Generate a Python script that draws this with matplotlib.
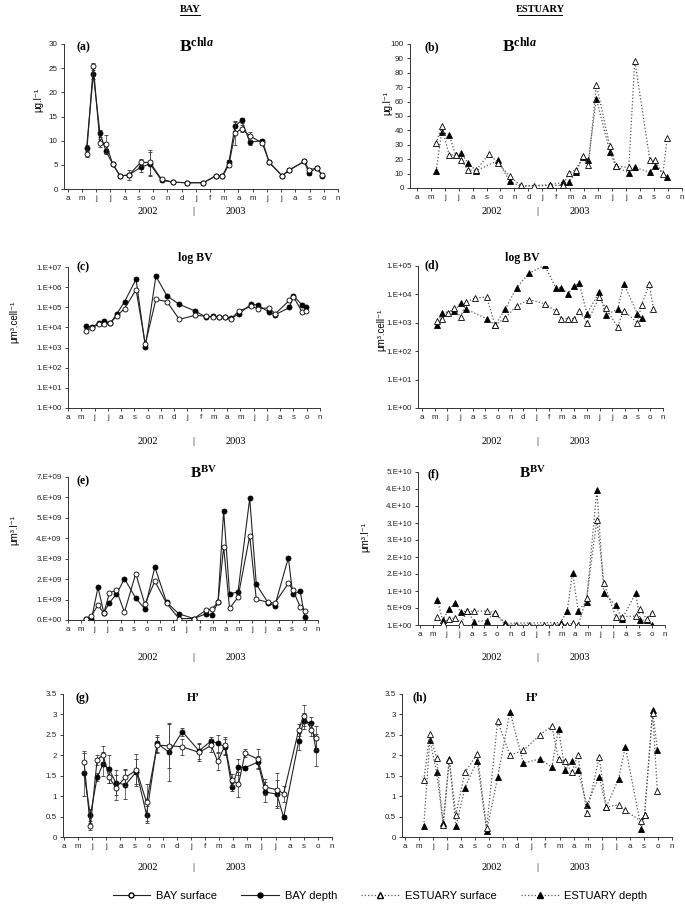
import numpy as np
import matplotlib
matplotlib.use('Agg')
import matplotlib.pyplot as plt
from matplotlib.lines import Line2D

plt.rcParams['font.family'] = ['Liberation Sans', 'DejaVu Sans']
plt.rcParams['mathtext.fontset'] = 'custom'
plt.rcParams['mathtext.rm'] = 'Liberation Serif'
plt.rcParams['mathtext.bf'] = 'Liberation Serif:bold'
plt.rcParams['mathtext.it'] = 'Liberation Serif:italic:bold'

nan = np.nan
months = ['a', 'm', 'j', 'j', 'a', 's', 'o', 'n', 'd', 'j', 'f', 'm', 'a', 'm', 'j', 'j', 'a', 's', 'o', 'n']

# (a) BAY chl a
bay_chl_x = [1.33, 1.8, 2.27, 2.7, 3.16, 3.68, 4.3, 5.13, 5.78, 6.6, 7.42, 8.36, 9.53, 10.4, 10.87,
             11.33, 11.76, 12.22, 12.8, 13.68, 14.17, 15.08, 15.55, 16.63, 16.96, 17.5, 17.9]
bay_chl_surf = [7.3, 25.5, 9.5, 9.3, 5.2, 2.7, 2.9, 5.5, 5.5, 2.0, 1.4, 1.3, 1.3, 2.7, 2.6,
                5.0, 11.5, 12.5, 11.0, 9.5, 5.5, 2.7, 3.9, 5.7, 4.0, 4.3, 3.0]
bay_chl_depth = [8.5, 23.7, 11.5, 7.8, 5.2, 2.7, 2.9, 4.5, 5.2, 1.8, 1.4, 1.3, 1.3, 2.7, 2.6,
                 5.5, 13.0, 14.2, 9.7, 10.0, 5.5, 2.7, 3.9, 5.7, 3.3, 4.4, 2.7]
bay_chl_surf_err = [0.7, 0.5, 0.8, 1.8, 0.3, 0.3, 1.1, 0.7, 2.5, 0.3, 0.1, 0.1, 0.1, 0.3, 0.2,
                    0.5, 2.3, 0.7, 0.8, 0.4, 0.4, 0.2, 0.3, 0.3, 0.4, 0.3, 0.3]
bay_chl_depth_err = [0.6, 1.0, 0.8, 0.5, 0.3, 0.2, 0.5, 1.0, 2.5, 0.3, 0.1, 0.1, 0.1, 0.3, 0.2,
                     0.4, 1.0, 0.5, 0.5, 0.4, 0.3, 0.2, 0.2, 0.3, 0.4, 0.3, 0.3]

# (b) ESTUARY chl a
est_chl_x = [1.39, 1.79, 2.32, 2.78, 3.2, 3.66, 4.26, 5.17, 5.84, 6.65, 7.46, 8.42, 9.57, 10.48, 10.89,
             11.4, 11.9, 12.3, 12.87, 13.83, 14.28, 15.19, 15.62, 16.7, 17.06, 17.63, 17.94]
est_chl_surf = [31, 42.8, 23, 23, 19.7, 12.3, 12.3, 23.6, 17.4, 8, 1.8, 1.4, 1.8, 1.8, 10.4,
                12.7, 22, 15.7, 71.7, 29, 15, 14.3, 88.4, 19.2, 19.2, 9.7, 34.7]
est_chl_depth = [11.6, 38.9, 37, 23.1, 24, 17.4, 12, nan, 19.2, 4.6, 1.2, nan, 2.3, 3.9, 3.9,
                 10.9, 21.3, 19.7, 62, 25, 15, 10.4, 14.4, 10.9, 15.5, nan, 7.4]

# (c) BAY log BV
bay_lbv_x = [1.38, 1.81, 2.31, 2.74, 3.19, 3.69, 4.27, 5.13, 5.83, 6.63, 7.46, 8.39, 9.6, 10.4, 10.9,
             11.36, 11.86, 12.29, 12.86, 13.79, 14.3, 15.13, 15.63, 16.7, 17.0, 17.64, 17.96]
bay_lbv_surf = [6.9e3, 9.8e3, 1.4e4, 1.5e4, 1.7e4, 3.8e4, 8.7e4, 7.6e5, 1.5e3, 2.5e5, 1.9e5, 2.5e4, 4.0e4, 3.6e4, 3.4e4,
                3.2e4, 3.2e4, 2.6e4, 6.5e4, 1.1e5, 8.7e4, 9.3e4, 4.8e4, 2.2e5, 3.3e5, 6.0e4, 6.9e4]
bay_lbv_depth = [1.2e4, 1.0e4, 1.7e4, 2.1e4, 1.6e4, 4.9e4, 1.9e5, 2.5e6, 1.1e3, 3.5e6, 3.7e5, 1.4e5, 6.5e4, 3.2e4, 3.5e4,
                 3.2e4, 3.2e4, 2.8e4, 4.6e4, 1.4e5, 1.3e5, 5.8e4, 4.3e4, 9.8e4, 3.8e5, 1.3e5, 9.8e4]

# (d) ESTUARY log BV
est_lbv_x = [1.21, 1.6, 2.1, 2.55, 3.05, 3.52, 4.18, 5.1, 5.78, 6.57, 7.46, 8.46, 9.67, 10.56, 10.99,
             11.51, 12.01, 12.4, 13.01, 13.98, 14.48, 15.43, 15.9, 16.98, 17.32, 17.92, 18.24]
est_lbv_surf = [1.15e3, 1.4e3, 2.2e3, 3.4e3, 1.6e3, 5.4e3, 7.4e3, 8.1e3, 8.3e2, 1.5e3, 3.9e3, 6.6e3, 4.7e3, 2.6e3, 1.4e3,
                1.4e3, 1.4e3, 2.6e3, 1.0e3, 8.1e3, 3.3e3, 7.2e2, 2.7e3, 1.0e3, 4.4e3, 2.3e4, 3.1e3]
est_lbv_depth = [8.7e2, 2.3e3, nan, 2.5e3, 5.0e3, 3.0e3, nan, 1.4e3, 8.3e2, 3.0e3, 1.7e4, 5.6e4, 1.07e5, 1.7e4, 1.7e4,
                 1.07e4, 1.95e4, 2.5e4, 2.1e3, 1.2e4, 1.9e3, 3.0e3, 2.4e4, 2.1e3, 1.5e3, nan, nan]

# (e) BAY BV
bay_bv_x = [1.35, 1.78, 2.28, 2.72, 3.15, 3.68, 4.29, 5.15, 5.84, 6.6, 7.49, 8.43, 9.57, 10.46, 10.91,
            11.4, 11.83, 12.28, 12.92, 13.81, 14.31, 15.2, 15.71, 16.75, 17.08, 17.64, 18.0]
bay_bv_surf = [0.07e9, 0.2e9, 0.74e9, 0.33e9, 1.33e9, 1.46e9, 0.38e9, 2.27e9, 0.77e9, 1.9e9, 0.82e9, 0.07e9, 0.07e9, 0.47e9, 0.52e9,
               0.87e9, 3.57e9, 0.57e9, 1.11e9, 4.12e9, 1.01e9, 0.87e9, 0.82e9, 1.8e9, 1.48e9, 0.66e9, 0.46e9]
bay_bv_depth = [0.07e9, 0.03e9, 1.6e9, 0.36e9, 0.85e9, 1.26e9, 2.02e9, 1.07e9, 0.54e9, 2.59e9, 0.87e9, 0.3e9, 0.07e9, 0.3e9, 0.23e9,
                0.87e9, 5.35e9, 1.27e9, 1.38e9, 5.95e9, 1.75e9, 0.85e9, 0.68e9, 3.05e9, 1.25e9, 1.42e9, 0.13e9]

# (f) ESTUARY BV
est_bv_x = [1.34, 1.76, 2.27, 2.74, 3.18, 3.67, 4.21, 5.17, 5.81, 6.62, 7.44, 8.42, 9.61, 10.39, 10.9,
            11.42, 11.83, 12.27, 12.92, 13.72, 14.26, 15.17, 15.66, 16.72, 17.08, 17.57, 17.96]
est_bv_surf = [2.45e9, 0.5e9, 1.9e9, 2.0e9, 0.7e9, 4.0e9, 4.1e9, 4.1e9, 3.6e9, 0.0, 0.0, 0.0, 0.0, 0.0, 0.3e9,
               0.0, 0.5e9, 0.0, 7.8e9, 31.0e9, 12.4e9, 2.5e9, 2.5e9, 2.6e9, 4.8e9, 1.7e9, 3.6e9]
est_bv_depth = [7.35e9, 1.5e9, 4.6e9, 6.6e9, 3.8e9, 4.1e9, 1.0e9, 1.3e9, 3.6e9, 0.5e9, nan, nan, nan, nan, 0.7e9,
                4.2e9, 15.4e9, 4.2e9, 6.9e9, 39.8e9, 9.3e9, 5.9e9, 1.7e9, 9.3e9, 1.4e9, 1.5e9, 0.0]
est_bv_ticks = [0, 5e9, 1e10, 1.5e10, 2e10, 2.5e10, 3e10, 3.5e10, 4e10, 4.5e10]
est_bv_labels = ['1.E+00', '5.E+09', '1.E+10', '2.E+10', '2.E+10', '3.E+10', '3.E+10', '4.E+10', '4.E+10', '5.E+10']

# (g) BAY H'
bay_h_x = [1.42, 1.87, 2.35, 2.77, 3.2, 3.67, 4.36, 5.14, 5.85, 6.61, 7.46, 8.39, 9.57, 10.43, 10.9,
           11.42, 11.9, 12.37, 12.84, 13.74, 14.27, 15.09, 15.57, 16.64, 16.99, 17.54, 17.87]
bay_h_surf = [1.83, 0.26, 1.89, 2.01, 1.46, 1.21, 1.46, 1.64, 0.85, 2.25, 2.23, 2.21, 2.07, 2.24, 1.85,
              2.24, 1.40, 1.29, 2.05, 1.91, 1.22, 1.16, 1.06, 2.62, 2.97, 2.62, 2.42]
bay_h_depth = [1.56, 0.53, 1.46, 1.79, 1.66, 1.33, 1.28, 1.6, 0.55, 2.29, 2.07, 2.58, 2.11, 2.35, 2.29,
               2.21, 1.22, 1.71, 1.70, 1.83, 1.1, 1.05, 0.48, 2.34, 2.84, 2.78, 2.13]
bay_h_surf_err = [0.22, 0.08, 0.12, 0.22, 0.15, 0.3, 0.2, 0.4, 0.45, 0.2, 0.55, 0.2, 0.2, 0.15, 0.2,
                  0.2, 0.15, 0.3, 0.1, 0.25, 0.2, 0.4, 0.2, 0.15, 0.25, 0.15, 0.3]
bay_h_depth_err = [0.55, 0.15, 0.1, 0.3, 0.35, 0.3, 0.35, 0.3, 0.2, 0.2, 0.7, 0.1, 0.2, 0.1, 0.2,
                   0.2, 0.1, 0.2, 0.05, 0.15, 0.25, 0.35, 0.05, 0.2, 0.2, 0.15, 0.4]

# (h) ESTUARY H'
est_h_x = [1.35, 1.78, 2.26, 2.73, 3.16, 3.63, 4.28, 5.15, 5.82, 6.6, 7.48, 8.43, 9.62, 10.45, 10.93,
           11.4, 11.88, 12.3, 12.95, 13.82, 14.32, 15.2, 15.68, 16.82, 17.05, 17.62, 17.96]
est_h_surf = [1.4, 2.51, 1.94, 0.29, 1.89, 0.55, 1.59, 2.03, 0.22, 2.84, 2.0, 2.12, 2.5, 2.72, 1.9,
              1.85, 1.59, 2.01, 0.59, 1.95, 0.73, 0.79, 0.65, 0.38, 0.55, 3.03, 1.13]
est_h_depth = [0.28, 2.38, 1.58, 0.34, 1.91, 0.26, 1.21, 1.87, 0.15, 1.46, 3.07, 1.81, 1.91, 1.71, 2.64,
               1.63, 1.87, 1.63, 0.79, 1.48, 0.73, 1.42, 2.21, 0.2, 0.55, 3.12, 2.13]

W, H = 685, 909
fig = plt.figure(figsize=(W / 100, H / 100), dpi=100)


def add_ax(l, t, r, b):
    return fig.add_axes([l / W, 1 - b / H, (r - l) / W, (b - t) / H])


def fx(px):
    return px / W


def fy(py):
    return 1 - py / H


def style(ax, x0):
    ax.set_xlim(x0, 19)
    ax.set_xticks(range(20))
    ax.set_xticklabels(months)
    for s in ['top', 'right']:
        ax.spines[s].set_visible(False)
    for s in ['left', 'bottom']:
        ax.spines[s].set_linewidth(0.7)
        ax.spines[s].set_color('#333333')
    ax.tick_params(axis='both', labelsize=5.8, length=2.5, width=0.6, pad=2, colors='#222222')


def draw(ax, x, y, filled, estuary, err=None):
    x = np.array(x, dtype=float)
    y = np.array(y, dtype=float)
    m = ~np.isnan(y)
    if estuary:
        kw = dict(marker='^', ls=':', color='#555555', lw=0.9, ms=3.8,
                  mec='black', mew=0.6, mfc='black' if filled else 'white')
    else:
        kw = dict(marker='o', ls='-', color='#222222', lw=0.8, ms=3.6,
                  mec='black', mew=0.6, mfc='black' if filled else 'white')
    if err is not None:
        e = np.array(err, dtype=float)
        ax.errorbar(x[m], y[m], yerr=e[m], ecolor='#333333', elinewidth=0.5, capsize=1.3,
                    capthick=0.5, zorder=2 if filled else 3, **kw)
    else:
        ax.plot(x[m], y[m], zorder=2 if filled else 3, **kw)


def serif(x, y, s, size, ha='center'):
    fig.text(fx(x), fy(y), s, fontsize=size, ha=ha, va='center', family='Liberation Serif',
             fontweight='bold')


# panel (a)
ax = add_ax(64, 44, 338, 189)
draw(ax, bay_chl_x, bay_chl_depth, True, False, bay_chl_depth_err)
draw(ax, bay_chl_x, bay_chl_surf, False, False, bay_chl_surf_err)
ax.set_ylim(0, 30)
ax.set_yticks([0, 5, 10, 15, 20, 25, 30])
style(ax, -0.26)

# panel (b)
ax = add_ax(410, 44, 682, 188)
draw(ax, est_chl_x, est_chl_depth, True, True)
draw(ax, est_chl_x, est_chl_surf, False, True)
ax.set_ylim(0, 100)
ax.set_yticks(range(0, 101, 10))
style(ax, -0.48)

# panel (c)
ax = add_ax(68, 267, 320, 408)
draw(ax, bay_lbv_x, bay_lbv_depth, True, False)
draw(ax, bay_lbv_x, bay_lbv_surf, False, False)
ax.set_yscale('log')
ax.set_ylim(1, 1e7)
ax.set_yticks([10.0 ** k for k in range(8)])
ax.set_yticklabels(['1.E+0%d' % k for k in range(8)])
ax.minorticks_off()
style(ax, 0)

# panel (d)
ax = add_ax(418, 266, 663, 408)
draw(ax, est_lbv_x, est_lbv_depth, True, True)
draw(ax, est_lbv_x, est_lbv_surf, False, True)
ax.set_yscale('log')
ax.set_ylim(1, 1e5)
ax.set_yticks([10.0 ** k for k in range(6)])
ax.set_yticklabels(['1.E+0%d' % k for k in range(6)])
ax.minorticks_off()
style(ax, -0.3)

# panel (e)
ax = add_ax(68, 477, 318, 620)
draw(ax, bay_bv_x, bay_bv_depth, True, False)
draw(ax, bay_bv_x, bay_bv_surf, False, False)
ax.set_ylim(0, 7e9)
ax.set_yticks([k * 1e9 for k in range(8)])
ax.set_yticklabels(['%d.E+%s' % (k, '00' if k == 0 else '09') for k in range(8)])
style(ax, 0)

# panel (f)
ax = add_ax(418, 472, 665, 625)
draw(ax, est_bv_x, est_bv_depth, True, True)
draw(ax, est_bv_x, est_bv_surf, False, True)
ax.set_ylim(0, 4.5e10)
ax.set_yticks(est_bv_ticks)
ax.set_yticklabels(est_bv_labels)
style(ax, -0.15)

# panel (g)
ax = add_ax(63, 694, 332, 837)
draw(ax, bay_h_x, bay_h_depth, True, False, bay_h_depth_err)
draw(ax, bay_h_x, bay_h_surf, False, False, bay_h_surf_err)
ax.set_ylim(0, 3.5)
ax.set_yticks([0, 0.5, 1, 1.5, 2, 2.5, 3, 3.5])
ax.set_yticklabels(['0', '0.5', '1', '1.5', '2', '2.5', '3', '3.5'])
style(ax, -0.07)

# panel (h)
ax = add_ax(402, 694, 672, 837)
draw(ax, est_h_x, est_h_depth, True, True)
draw(ax, est_h_x, est_h_surf, False, True)
ax.set_ylim(0, 3.5)
ax.set_yticks([0, 0.5, 1, 1.5, 2, 2.5, 3, 3.5])
ax.set_yticklabels(['0', '0.5', '1', '1.5', '2', '2.5', '3', '3.5'])
style(ax, -0.2)

# column headers, underlined
for x, s in [(190, 'BAY'), (540, 'ESTUARY')]:
    t = fig.text(fx(x), fy(10), s, fontsize=7.5, ha='center', va='center',
                 family='Liberation Serif', fontweight='bold')
    half = 3.0 * len(s) + 1
    fig.add_artist(Line2D([fx(x - half), fx(x + half)], [fy(15), fy(15)], color='black', lw=0.7))

# panel letters and titles
letters = [('(a)', 83, 47), ('(b)', 432, 47), ('(c)', 83, 267), ('(d)', 432, 265),
           ('(e)', 83, 481), ('(f)', 433, 474), ('(g)', 82, 698), ('(h)', 420, 697)]
for s, x, y in letters:
    serif(x, y, s, 8.5, ha='center')

serif(197, 47, r'$\mathbf{B}^{\mathbf{chl}\mathit{a}}$', 12.5)
serif(520, 47, r'$\mathbf{B}^{\mathbf{chl}\mathit{a}}$', 12.5)
serif(195, 258, 'log BV', 8.5)
serif(522, 258, 'log BV', 8.5)
serif(203, 473, r'$\mathbf{B}^{\mathbf{BV}}$', 11)
serif(532, 473, r'$\mathbf{B}^{\mathbf{BV}}$', 11)
serif(193, 698, "H’", 8.5)
serif(532, 698, "H’", 8.5)

# y labels
ylabels = [(38, 100, 'μg.l⁻¹'), (387, 103, 'μg.l⁻¹'), (14, 322, 'μm³.cell⁻¹'),
           (381, 330, 'μm³.cell⁻¹'), (14, 530, 'μm³.l⁻¹'), (365, 537, 'μm³.l⁻¹')]
for x, y, s in ylabels:
    fig.text(fx(x), fy(y), s, fontsize=7, rotation=90, ha='center', va='center')

# year captions
for yy in [212, 442, 658, 868]:
    for x0 in [148, 492]:
        fig.text(fx(x0), fy(yy), '2002', fontsize=7.5, ha='center', va='center', family='Liberation Serif')
        fig.text(fx(x0 + 45), fy(yy), '|', fontsize=7.5, ha='center', va='center', family='Liberation Serif')
        fig.text(fx(x0 + 88), fy(yy), '2003', fontsize=7.5, ha='center', va='center', family='Liberation Serif')

# legend
handles = [
    Line2D([], [], marker='o', ls='-', color='#222222', lw=0.8, ms=3.6, mec='black', mfc='white'),
    Line2D([], [], marker='o', ls='-', color='#222222', lw=0.8, ms=3.6, mec='black', mfc='black'),
    Line2D([], [], marker='^', ls=':', color='#555555', lw=0.9, ms=3.8, mec='black', mfc='white'),
    Line2D([], [], marker='^', ls=':', color='#555555', lw=0.9, ms=3.8, mec='black', mfc='black'),
]
fig.legend(handles, ['BAY surface', 'BAY depth', 'ESTUARY surface', 'ESTUARY depth'],
           loc='center', bbox_to_anchor=(fx(380), fy(896)), ncol=4, frameon=False,
           fontsize=8, handlelength=3.4, columnspacing=2.2, handletextpad=0.5)

fig.savefig('out.png', dpi=100)
